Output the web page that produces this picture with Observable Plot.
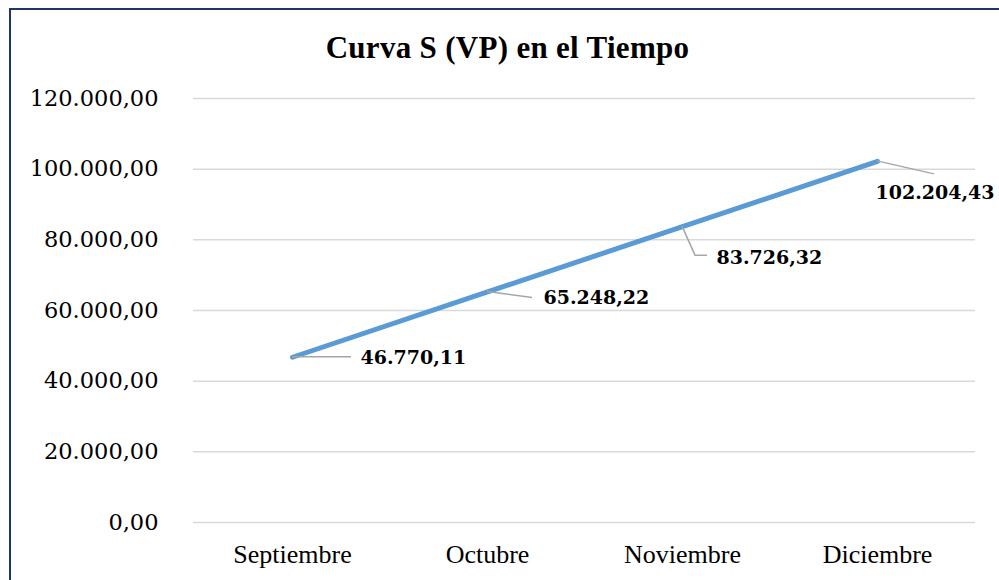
<!DOCTYPE html>
<html>
<head>
<meta charset="utf-8">
<script src="https://cdn.jsdelivr.net/npm/d3@7"></script>
<script src="https://cdn.jsdelivr.net/npm/@observablehq/plot@0.6"></script>
<style>
  html, body { margin: 0; padding: 0; background: #fff; }
  #wrap { position: relative; width: 999px; height: 580px; overflow: hidden; background: #fff; }
  #frame { position: absolute; left: 9px; top: 8px; width: 1200px; height: 800px;
           border-left: 2px solid #1f3468; border-top: 2px solid #1f3468; box-sizing: border-box; }
  #title { position: absolute; left: 0; top: 32px; width: 1015px; text-align: center;
           font-family: "Liberation Serif", "Times New Roman", serif; font-weight: bold;
           font-size: 31px; letter-spacing: 0.3px; line-height: 31px; color: #000; }
  #chart { position: absolute; left: 0; top: 0; }
  #chart svg [aria-label^="y-axis"] text { font-family: "DejaVu Serif", serif; font-size: 22.5px; fill: #000; }
  #chart svg [aria-label^="x-axis"] text { font-family: "Liberation Serif", "Times New Roman", serif; font-size: 26px; fill: #000; }
</style>
</head>
<body>
<div id="wrap">
  <div id="frame"></div>
  <div id="chart"></div>
  <div id="title">Curva S (VP) en el Tiempo</div>
</div>
<script>
// ---- data ----
const months = ["Septiembre", "Octubre", "Noviembre", "Diciembre"];
const values = [46770.11, 65248.22, 83726.32, 102204.43];
const yTicks = [0, 20000, 40000, 60000, 80000, 100000, 120000];

// ---- layout (pixel offsets of labels / leader lines relative to each point) ----
const labelDx = [68, 56, 34, -2];
const labelDy = [1, 6, 31, 32];
const leaderPaths = [
  [[0, 0], [59, 0]],
  [[0, 0], [45, 6]],
  [[0, 0], [13, 29], [25, 29]],
  [[0, 0], [57, 13]]
];

const data = months.map((m, i) => ({month: m, value: values[i], i}));
const loc = d3.formatLocale({decimal: ",", thousands: ".", grouping: [3], currency: ["", ""]});
const fmt = loc.format(",.2f");

const labelMarks = data.map((d, i) =>
  Plot.text([d], {
    x: "month", y: "value", text: r => fmt(r.value),
    textAnchor: "start", dx: labelDx[i], dy: labelDy[i],
    fontFamily: "DejaVu Serif", fontWeight: "bold", fontSize: 19, fill: "#000"
  })
);

const plot = Plot.plot({
  width: 999,
  height: 580,
  marginLeft: 193,
  marginRight: 24,
  marginTop: 98,
  marginBottom: 58,
  style: {background: "transparent", overflow: "visible"},
  x: {type: "point", domain: months, padding: 0.5, label: null, tickSize: 0, tickPadding: 22},
  y: {domain: [0, 120000], ticks: yTicks, tickFormat: fmt, label: null, tickSize: 0, tickPadding: 35},
  marks: [
    Plot.ruleY(yTicks, {stroke: "#d9d9d9", strokeWidth: 1.5}),
    Plot.line(data, {x: "month", y: "value", stroke: "#5b9bd5", strokeWidth: 5, strokeLinecap: "round", strokeLinejoin: "round"}),
    ...labelMarks
  ]
});
document.getElementById("chart").appendChild(plot);

// leader lines positioned through Plot's own scales
const xs = plot.scale("x"), ys = plot.scale("y");
const svg = d3.select(plot);
const lineGen = d3.line();
const g = svg.insert("g", "g[aria-label='text']").attr("aria-label", "leaders");
data.forEach((d, i) => {
  const px = xs.apply(d.month), py = ys.apply(d.value);
  g.append("path")
    .attr("d", lineGen(leaderPaths[i].map(([a, b]) => [px + a, py + b])))
    .attr("fill", "none").attr("stroke", "#a6a6a6").attr("stroke-width", 1.5);
});
</script>
</body>
</html>
